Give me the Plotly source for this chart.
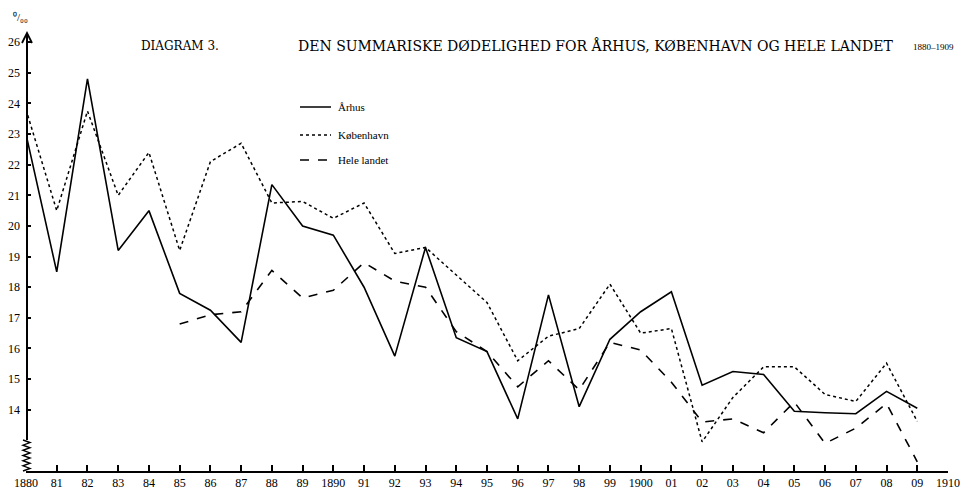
import plotly.graph_objects as go

years = list(range(1880, 1910))
aarhus = [23.0, 18.5, 24.8, 19.2, 20.5, 17.8, 17.25, 16.2, 21.35, 20.0,
          19.7, 18.0, 15.75, 19.3, 16.35, 15.9, 13.7, 17.75, 14.1, 16.3,
          17.2, 17.85, 14.8, 15.25, 15.15, 13.95, 13.9, 13.87, 14.6, 14.05]
kobenhavn = [23.8, 20.5, 23.75, 21.0, 22.4, 19.2, 22.1, 22.7, 20.75, 20.8,
             20.25, 20.75, 19.1, 19.3, 18.4, 17.5, 15.6, 16.4, 16.65, 18.1,
             16.5, 16.65, 12.95, 14.4, 15.4, 15.4, 14.5, 14.27, 15.52, 13.62]
hele_years = list(range(1885, 1910))
hele_landet = [16.8, 17.1, 17.2, 18.55, 17.65, 17.9, 18.8, 18.2, 18.0, 16.55,
               15.9, 14.75, 15.6, 14.65, 16.2, 15.95, 14.9, 13.6, 13.7, 13.25,
               14.25, 12.9, 13.4, 14.2, 12.3]

x_tickvals = list(range(1880, 1911))
x_ticktext = ["1880", "81", "82", "83", "84", "85", "86", "87", "88", "89",
              "1890", "91", "92", "93", "94", "95", "96", "97", "98", "99",
              "1900", "01", "02", "03", "04", "05", "06", "07", "08", "09", "1910"]
y_tickvals = list(range(14, 27))

FONT = "Liberation Serif"
TFONT = "DejaVu Serif"
W, H = 961, 492
ML, MR, MT, MB = 26, 13, 33, 21
PW, PH = W - ML - MR, H - MT - MB


def px(x):
    return (x - ML) / PW


def py(y):
    return (H - MB - y) / PH


fig = go.Figure()
fig.add_trace(go.Scatter(x=years, y=aarhus, mode="lines", name="Århus",
                         line=dict(color="black", width=1.6)))
fig.add_trace(go.Scatter(x=years, y=kobenhavn, mode="lines", name="København",
                         line=dict(color="black", width=1.5, dash="dot")))
fig.add_trace(go.Scatter(x=hele_years, y=hele_landet, mode="lines", name="Hele landet",
                         line=dict(color="black", width=1.6, dash="dash")))

AX = ML + 1
shapes = []
# y axis line (above the break)
shapes.append(dict(type="line", xref="paper", yref="paper",
                   x0=px(AX), x1=px(AX), y0=py(440), y1=py(34),
                   line=dict(color="black", width=2)))
# arrow head on y axis
shapes.append(dict(type="path", xref="paper", yref="paper",
                   path=f"M {px(AX-5)} {py(43)} L {px(AX)} {py(33)} L {px(AX+5)} {py(43)}",
                   line=dict(color="black", width=1.8)))
# zigzag break on y axis
pts = []
n = 12
for i in range(n + 1):
    yy = 440 + i * 31 / n
    xx = AX - 4 if i % 2 == 0 else AX + 3
    pts.append(f"{px(xx)} {py(yy)}")
shapes.append(dict(type="path", xref="paper", yref="paper",
                   path="M " + " L ".join(pts),
                   line=dict(color="black", width=1.4)))
# legend samples
leg = [("Århus", "solid", 107), ("København", "dot", 135), ("Hele landet", "dash", 160)]
annotations = []
for name, dash, yy in leg:
    shapes.append(dict(type="line", xref="paper", yref="paper",
                       x0=px(300), x1=px(331), y0=py(yy), y1=py(yy),
                       line=dict(color="black", width=1.5, dash=dash)))
    annotations.append(dict(text=name, xref="paper", yref="paper", x=px(336), y=py(yy),
                            xanchor="left", yanchor="middle", showarrow=False,
                            font=dict(family=FONT, size=11, color="black")))

annotations += [
    dict(text="DIAGRAM 3.", xref="paper", yref="paper", x=px(180), y=py(46),
         xanchor="center", yanchor="middle", showarrow=False,
         font=dict(family=TFONT, size=12, color="black")),
    dict(text="DEN SUMMARISKE DØDELIGHED FOR ÅRHUS, KØBENHAVN OG HELE LANDET",
         xref="paper", yref="paper", x=px(296), y=py(46),
         xanchor="left", yanchor="middle", showarrow=False,
         font=dict(family=TFONT, size=14, color="black")),
    dict(text="1880–1909", xref="paper", yref="paper", x=px(956), y=py(47),
         xanchor="right", yanchor="middle", showarrow=False,
         font=dict(family=FONT, size=9, color="black")),
    dict(text="⁰/₀₀", xref="paper", yref="paper", x=px(20), y=py(17),
         xanchor="center", yanchor="middle", showarrow=False,
         font=dict(family=FONT, size=11, color="black")),
]

fig.update_layout(
    width=W, height=H,
    margin=dict(l=ML, r=MR, t=MT, b=MB),
    paper_bgcolor="white", plot_bgcolor="white",
    showlegend=False,
    shapes=shapes, annotations=annotations,
    xaxis=dict(range=[1880, 1910], tickvals=x_tickvals, ticktext=x_ticktext,
               showgrid=False, zeroline=False, showline=True, linecolor="black",
               linewidth=2, ticks="inside", ticklen=6, tickwidth=1.5, tickcolor="black",
               tickangle=0, automargin=False,
               tickfont=dict(family=FONT, size=12, color="black")),
    yaxis=dict(range=[12, 26.3], tickvals=y_tickvals,
               showgrid=False, zeroline=False, showline=False,
               ticks="inside", ticklen=5, tickwidth=1.5, tickcolor="black",
               automargin=False, ticklabelstandoff=5,
               tickfont=dict(family=FONT, size=12, color="black")),
)

fig.write_html("out.html", config={"displayModeBar": False},
               post_script="document.body.style.margin='0';document.body.style.padding='0';document.body.style.overflow='hidden';")
